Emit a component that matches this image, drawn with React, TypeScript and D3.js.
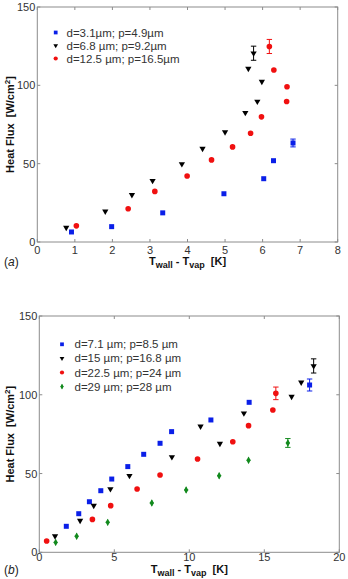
import React from "react";
import * as d3 from "d3";

// Panel (a)
const aTicksX = [0, 1, 2, 3, 4, 5, 6, 7, 8];
const aTicksY = [0, 50, 100, 150];
const aBlueX = [0.91, 1.98, 3.34, 4.97, 6.03, 6.29, 6.81];
const aBlueY = [6.4, 9.8, 18.6, 30.8, 40.4, 51.9, 63.2];
const aBlackX = [0.77, 1.81, 2.52, 3.07, 3.85, 4.4, 5.0, 5.54, 5.86, 5.98, 5.62, 5.76];
const aBlackY = [9.2, 19.6, 30.1, 39.1, 49.8, 59.6, 70.1, 82.5, 89.7, 102.4, 110.7, 120.5];
const aRedX = [1.04, 2.42, 3.13, 3.99, 4.64, 5.2, 5.68, 5.97, 6.64, 6.65, 6.3, 6.18];
const aRedY = [10.3, 21.2, 32.3, 42.1, 52.4, 60.7, 69.4, 79.9, 89.7, 99.1, 109.8, 124.8];
const aErr = { blue: 2.5, black: 4.5, red: 4.5 };
const aLegend = ["d=3.1\u00b5m; p=4.9\u00b5m", "d=6.8 \u00b5m; p=9.2\u00b5m", "d=12.5 \u00b5m; p=16.5\u00b5m"];

// Panel (b)
const bTicksX = [0, 5, 10, 15, 20];
const bTicksY = [0, 50, 100, 150];
const bBlueX = [1.8, 2.63, 3.34, 4.1, 4.83, 5.9, 6.96, 8.05, 8.82, 11.44, 13.99, 18.02];
const bBlueY = [16.5, 24.5, 32.1, 39.1, 46.5, 54.4, 62.2, 69.2, 76.6, 84.0, 95.2, 106.2];
const bBlackX = [1.05, 2.72, 3.63, 4.74, 6.01, 8.84, 10.75, 12.04, 13.64, 16.82, 17.46, 18.29];
const bBlackY = [10.3, 20.1, 29.6, 40.2, 48.6, 60.5, 80.0, 69.0, 88.3, 98.8, 107.9, 118.3];
const bRedX = [0.49, 3.54, 4.76, 6.52, 8.05, 10.55, 12.9, 13.95, 15.57, 15.77];
const bRedY = [7.2, 20.9, 29.6, 40.2, 49.1, 59.2, 70.2, 80.4, 90.3, 100.9];
const bGreenX = [1.09, 2.49, 4.56, 7.5, 9.79, 11.99, 13.95, 16.57];
const bGreenY = [6.3, 10.2, 19.0, 31.3, 39.6, 48.6, 58.4, 69.4];
const bErr = { blue: 3.8, black: 4.5, red: 4.0, green: 2.8 };
const bLegend = ["d=7.1 \u00b5m; p=8.5 \u00b5m", "d=15 \u00b5m; p=16.8 \u00b5m", "d=22.5 \u00b5m; p=24 \u00b5m", "d=29 \u00b5m; p=28 \u00b5m"];

const BLUE = "#0a1fe8";
const RED = "#f01010";
const BLACK = "#000";
const GREEN = "#138a1e";
const FONT = "Arial, 'Liberation Sans', sans-serif";

type Kind = "square" | "tri" | "circle" | "diamond";

const symbolFor: Record<Kind, d3.SymbolType> = {
  square: d3.symbolSquare,
  tri: d3.symbolTriangle,
  circle: d3.symbolCircle,
  diamond: d3.symbolDiamond,
};
const sizeFor: Record<Kind, number> = { square: 25, tri: 17, circle: 25, diamond: 16 };

function Marker({
  kind,
  x,
  y,
  color,
  scale = 1,
}: {
  kind: Kind;
  x: number;
  y: number;
  color: string;
  scale?: number;
}) {
  const path = d3.symbol(symbolFor[kind], sizeFor[kind] * scale * scale)() as string;
  const rot = kind === "tri" ? 180 : 0;
  const h = 3 * scale;
  return (
    <g transform={`translate(${x},${y}) rotate(${rot})`}>
      <path d={path} fill={color} />
      {kind === "diamond" && (
        <path d={`M0,${-h}V${h}M${-h * 0.7},0H${h * 0.7}`} stroke={color} strokeWidth={0.8} />
      )}
    </g>
  );
}

type Series = { xs: number[]; ys: number[]; kind: Kind; color: string; err: number };

function Panel({
  x,
  y,
  ticksX,
  ticksY,
  series,
  legend,
  legendX,
  legendTextX,
  legendY,
  legendStep,
  tag,
  labelY,
  xTickY,
}: {
  x: d3.ScaleLinear<number, number>;
  y: d3.ScaleLinear<number, number>;
  ticksX: number[];
  ticksY: number[];
  series: Series[];
  legend: string[];
  legendX: number;
  legendTextX: number;
  legendY: number;
  legendStep: number;
  tag: string;
  labelY: number;
  xTickY: number;
}) {
  const [x0, x1] = x.range();
  const [y0, y1] = y.range();
  const tl = 3;
  const frame = "#8c8c8c";
  const cx = (x0 + x1) / 2;
  const cy = (y0 + y1) / 2;
  return (
    <g fontFamily={FONT}>
      <rect x={x0} y={y1} width={x1 - x0} height={y0 - y1} fill="#fff" stroke={frame} strokeWidth={1} />
      {ticksX.map((t) => (
        <g key={"tx" + t}>
          <line x1={x(t)} x2={x(t)} y1={y0} y2={y0 - tl} stroke={frame} />
          <line x1={x(t)} x2={x(t)} y1={y1} y2={y1 + tl} stroke={frame} />
          <text x={x(t)} y={xTickY} fontSize={11} fill="#333" textAnchor="middle">
            {t}
          </text>
        </g>
      ))}
      {ticksY.map((t) => (
        <g key={"ty" + t}>
          <line x1={x0} x2={x0 + tl} y1={y(t)} y2={y(t)} stroke={frame} />
          <line x1={x1} x2={x1 - tl} y1={y(t)} y2={y(t)} stroke={frame} />
          <text x={x0 - 2} y={y(t) + 4} fontSize={11} fill="#333" textAnchor="end">
            {t}
          </text>
        </g>
      ))}
      {series.map((s, si) =>
        s.xs.map((v, i) => {
          const last = i === s.xs.length - 1;
          const px = x(v);
          const py = y(s.ys[i]);
          return (
            <g key={`m${si}-${i}`}>
              {last && (
                <g stroke={s.color} strokeWidth={1}>
                  <line x1={px} x2={px} y1={y(s.ys[i] - s.err)} y2={y(s.ys[i] + s.err)} />
                  <line x1={px - 2.7} x2={px + 2.7} y1={y(s.ys[i] - s.err)} y2={y(s.ys[i] - s.err)} />
                  <line x1={px - 2.7} x2={px + 2.7} y1={y(s.ys[i] + s.err)} y2={y(s.ys[i] + s.err)} />
                </g>
              )}
              <Marker kind={s.kind} x={px} y={py} color={s.color} />
            </g>
          );
        })
      )}
      {legend.map((l, i) => (
        <g key={"lg" + i}>
          <Marker
            kind={series[i].kind}
            x={legendX}
            y={legendY + i * legendStep}
            color={series[i].color}
            scale={0.75}
          />
          <text x={legendTextX} y={legendY + i * legendStep + 4} fontSize={11.5} fill="#333">
            {l}
          </text>
        </g>
      ))}
      <text
        transform={`translate(14,${cy}) rotate(-90)`}
        textAnchor="middle"
        fontSize={11}
        fontWeight="bold"
        fill="#111"
      >
        Heat Flux{"\u00a0\u00a0"}[W/cm
        <tspan dy={-4} fontSize={8}>
          2
        </tspan>
        <tspan dy={4}>]</tspan>
      </text>
      <text x={cx} y={labelY} textAnchor="middle" fontSize={11} fontWeight="bold" fill="#111">
        T
        <tspan dy={3} fontSize={9}>
          wall
        </tspan>
        <tspan dy={-3}> - T</tspan>
        <tspan dy={3} fontSize={9}>
          vap
        </tspan>
        <tspan dy={-3}>{"\u00a0\u00a0"}[K]</tspan>
      </text>
      <text x={4} y={labelY + 1} fontSize={12} fill="#222">
        (<tspan fontStyle="italic">{tag}</tspan>)
      </text>
    </g>
  );
}

export default function App() {
  const xA = d3.scaleLinear().domain([0, 8]).range([37.3, 337.7]);
  const yA = d3.scaleLinear().domain([0, 150]).range([242, 7]);
  const xB = d3.scaleLinear().domain([0, 20]).range([39.3, 339.3]);
  const yB = d3.scaleLinear().domain([0, 150]).range([552.3, 316]);

  const seriesA: Series[] = [
    { xs: aBlueX, ys: aBlueY, kind: "square", color: BLUE, err: aErr.blue },
    { xs: aBlackX, ys: aBlackY, kind: "tri", color: BLACK, err: aErr.black },
    { xs: aRedX, ys: aRedY, kind: "circle", color: RED, err: aErr.red },
  ];
  const seriesB: Series[] = [
    { xs: bBlueX, ys: bBlueY, kind: "square", color: BLUE, err: bErr.blue },
    { xs: bBlackX, ys: bBlackY, kind: "tri", color: BLACK, err: bErr.black },
    { xs: bRedX, ys: bRedY, kind: "circle", color: RED, err: bErr.red },
    { xs: bGreenX, ys: bGreenY, kind: "diamond", color: GREEN, err: bErr.green },
  ];

  return (
    <svg
      width={348}
      height={579}
      style={{ position: "absolute", left: 0, top: 0, background: "#fff" }}
    >
      <rect width={348} height={579} fill="#fff" />
      <Panel
        x={xA}
        y={yA}
        ticksX={aTicksX}
        ticksY={aTicksY}
        series={seriesA}
        legend={aLegend}
        legendX={55.7}
        legendTextX={66.5}
        legendY={32.5}
        legendStep={13}
        tag="a"
        labelY={265}
        xTickY={254}
      />
      <Panel
        x={xB}
        y={yB}
        ticksX={bTicksX}
        ticksY={bTicksY}
        series={seriesB}
        legend={bLegend}
        legendX={62}
        legendTextX={74.5}
        legendY={344.3}
        legendStep={14.1}
        tag="b"
        labelY={573}
        xTickY={561}
      />
    </svg>
  );
}
